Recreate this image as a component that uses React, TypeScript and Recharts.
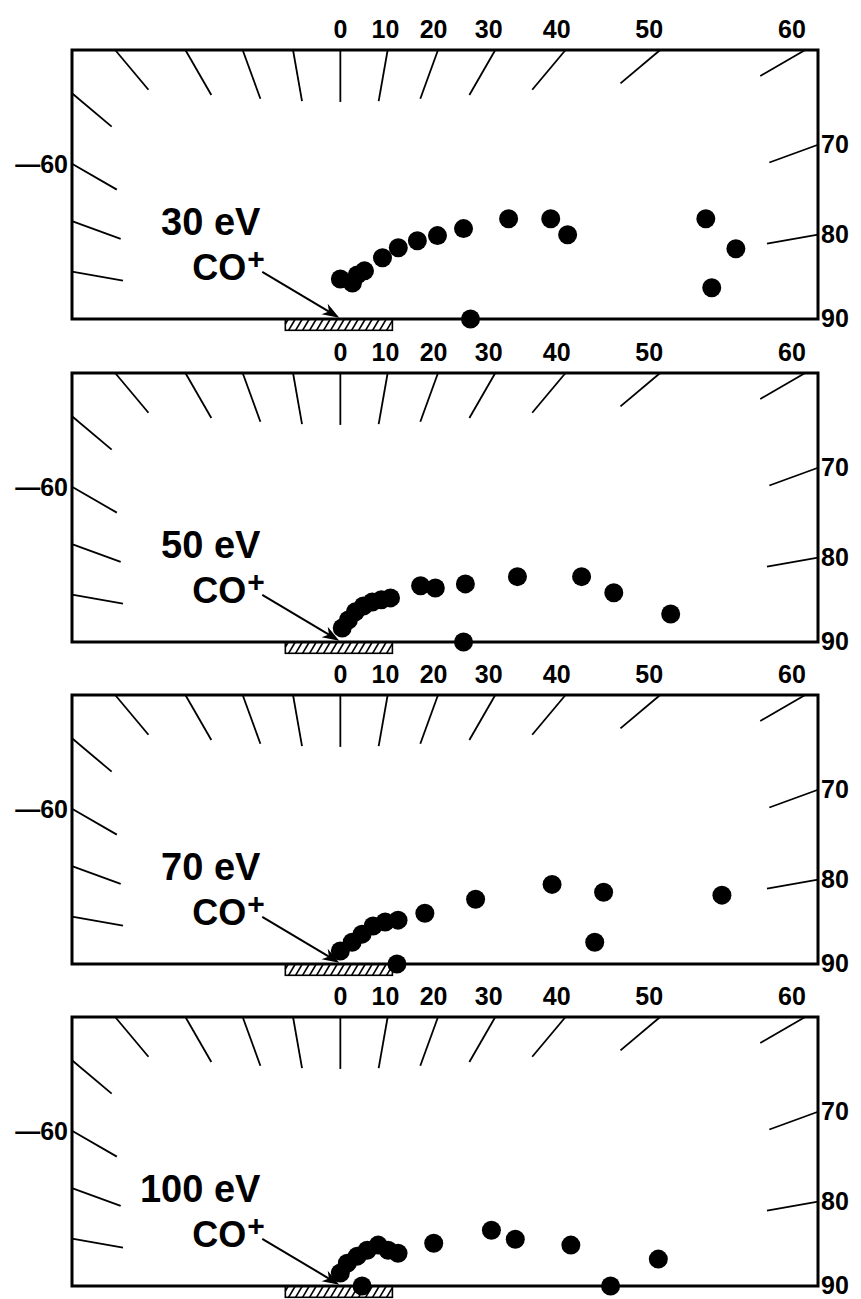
import React from "react";
import {
  ScatterChart,
  Scatter,
  XAxis,
  YAxis,
  ReferenceLine,
  ReferenceArea,
} from "recharts";

// frame in units of 1/100 panel height, origin = target spot on the baseline
const X_MIN = -100;
const X_MAX = 178;
const Y_MAX = 100;
const TICK_LEN = 19.3;

const TICK_ANGLES = [-80, -70, -60, -50, -40, -30, -20, -10, 0, 10, 20, 30, 40, 50, 60, 70, 80];
const TOP_LABELS = [0, 10, 20, 30, 40, 50, 60];
const RIGHT_LABELS = [70, 80, 90];
const LEFT_LABELS = [-60];

const ENERGY_LABELS = ["30 eV", "50 eV", "70 eV", "100 eV"];
const ION_LABEL = "CO";

// ─── measured points (horizontal, vertical) ────────────────────────────────
const X_30 = [0, 4.5, 6.3, 9.0, 15.7, 21.6, 28.7, 36.2, 45.9, 62.7, 78.4, 84.7, 136.2, 147.4, 138.4, 48.5];
const Y_30 = [14.9, 13.4, 16.4, 17.9, 22.8, 26.5, 29.1, 31.0, 33.6, 37.3, 37.3, 31.3, 37.3, 26.1, 11.6, 0];

const X_50 = [0.7, 3.0, 5.6, 8.6, 11.9, 15.3, 18.7, 29.9, 35.4, 46.6, 66.0, 89.9, 101.9, 123.1, 45.9];
const Y_50 = [5.2, 8.2, 11.2, 13.4, 14.9, 15.7, 16.4, 20.9, 20.1, 21.6, 24.3, 24.3, 18.3, 10.4, 0];

const X_70 = [0, 4.4, 8.1, 12.2, 16.7, 21.5, 31.5, 50.4, 78.9, 98.1, 142.2, 94.8, 21.1];
const Y_70 = [4.8, 8.1, 11.1, 14.1, 15.6, 16.3, 18.9, 24.1, 29.6, 26.7, 25.6, 8.1, 0];

const X_100 = [0, 2.6, 6.3, 10.0, 14.1, 17.8, 21.5, 34.8, 56.3, 65.2, 85.9, 118.5, 8.1, 100.7];
const Y_100 = [4.8, 8.5, 11.1, 13.3, 15.2, 13.3, 12.2, 15.9, 20.7, 17.4, 15.2, 10.0, 0, 0];

const SERIES = [
  { xs: X_30, ys: Y_30 },
  { xs: X_50, ys: Y_50 },
  { xs: X_70, ys: Y_70 },
  { xs: X_100, ys: Y_100 },
];

// annotation anchors
const ENERGY_POS = { x: -29.8, y: 31.2 };
const ION_POS = { x: -55.2, y: 14.5 };
const ARROW_FROM = { x: -29.1, y: 17.5 };
const ARROW_TO = { x: -0.4, y: 0.5 };
const SAMPLE = { x1: -20.5, x2: 19.4, depth: -4.2 };

const FONT = "'Liberation Sans', Arial, sans-serif";
const rad = (d: number) => (d * Math.PI) / 180;

// distance from origin to the frame along a ray (0° = straight up)
function edgeDist(deg: number) {
  const s = Math.sin(rad(deg));
  const c = Math.cos(rad(deg));
  let t = Infinity;
  if (c > 1e-6) t = Math.min(t, Y_MAX / c);
  if (s > 1e-6) t = Math.min(t, X_MAX / s);
  if (s < -1e-6) t = Math.min(t, -X_MIN / -s);
  return { s, c, t };
}

const labelText = {
  fontFamily: FONT,
  fontWeight: 700,
  fontSize: 25,
  fill: "#000",
};

function arrowShape(p: any) {
  const { x1, y1, x2, y2 } = p;
  const a = Math.atan2(y2 - y1, x2 - x1);
  const hl = 17;
  const hw = 6;
  const bx = x2 - hl * Math.cos(a);
  const by = y2 - hl * Math.sin(a);
  const nx = x2 - (hl - 5) * Math.cos(a);
  const ny = y2 - (hl - 5) * Math.sin(a);
  const px = -Math.sin(a) * hw;
  const py = Math.cos(a) * hw;
  return (
    <g>
      <line x1={x1} y1={y1} x2={nx} y2={ny} stroke="#000" strokeWidth={2} />
      <polygon
        points={`${x2},${y2} ${bx + px},${by + py} ${nx},${ny} ${bx - px},${by - py}`}
        fill="#000"
      />
    </g>
  );
}

// sample holder: outlined strip with "/" hatching
function hatchShape(p: any) {
  const { x, y, width, height } = p;
  const k = 0.6; // horizontal run per unit of height
  const lines = [];
  for (let hx = x - height * k + 3; hx < x + width; hx += 7) {
    const xa = Math.max(hx, x);
    const xb = Math.min(hx + height * k, x + width);
    lines.push(
      <line
        key={hx}
        x1={xa}
        y1={y + height - (xa - hx) / k}
        x2={xb}
        y2={y + height - (xb - hx) / k}
        stroke="#000"
        strokeWidth={1.6}
      />,
    );
  }
  return (
    <g>
      <rect x={x} y={y} width={width} height={height} fill="#fff" stroke="#000" strokeWidth={1.6} />
      {lines}
    </g>
  );
}

function Panel({ idx }: { idx: number }) {
  const { xs, ys } = SERIES[idx];
  const points = xs.map((x, i) => ({ x, y: ys[i] }));

  const topLabels = TOP_LABELS.map((deg) => ({
    x: Y_MAX * Math.tan(rad(deg)),
    y: Y_MAX,
    deg,
  }));
  const rightLabels = RIGHT_LABELS.map((deg) => ({
    x: X_MAX,
    y: deg === 90 ? 0 : X_MAX / Math.tan(rad(deg)),
    deg,
  }));
  const leftLabels = LEFT_LABELS.map((deg) => ({
    x: X_MIN,
    y: -X_MIN / Math.tan(rad(-deg)),
    deg,
  }));

  return (
    <ScatterChart
      width={861}
      height={345}
      margin={{ top: 50, right: 43, bottom: 26, left: 72 }}
    >
      <XAxis type="number" dataKey="x" domain={[X_MIN, X_MAX]} hide />
      <YAxis type="number" dataKey="y" domain={[0, Y_MAX]} hide />

      <ReferenceArea
        x1={SAMPLE.x1}
        x2={SAMPLE.x2}
        y1={SAMPLE.depth}
        y2={0}
        ifOverflow="visible"
        shape={hatchShape}
      />
      <ReferenceArea
        x1={X_MIN}
        x2={X_MAX}
        y1={0}
        y2={Y_MAX}
        ifOverflow="visible"
        fill="none"
        fillOpacity={0}
        stroke="#000"
        strokeWidth={3}
      />

      {TICK_ANGLES.map((deg) => {
        const { s, c, t } = edgeDist(deg);
        return (
          <ReferenceLine
            key={deg}
            ifOverflow="visible"
            stroke="#000"
            strokeWidth={1.8}
            segment={[
              { x: s * t, y: c * t },
              { x: s * (t - TICK_LEN), y: c * (t - TICK_LEN) },
            ]}
          />
        );
      })}

      <ReferenceLine
        ifOverflow="visible"
        segment={[ARROW_FROM, ARROW_TO]}
        shape={arrowShape}
      />

      <Scatter
        data={topLabels}
        isAnimationActive={false}
        shape={(p: any) => (
          <text
            x={p.cx - p.payload.deg * 0.22}
            y={p.cy - 12}
            textAnchor="middle"
            style={labelText}
          >
            {p.payload.deg}
          </text>
        )}
      />
      <Scatter
        data={rightLabels}
        isAnimationActive={false}
        shape={(p: any) => (
          <text x={p.cx + 3} y={p.cy + 8} textAnchor="start" style={labelText}>
            {p.payload.deg}
          </text>
        )}
      />
      <Scatter
        data={leftLabels}
        isAnimationActive={false}
        shape={(p: any) => (
          <text x={p.cx - 4} y={p.cy + 9} textAnchor="end" style={labelText}>
            {"\u2014" + Math.abs(p.payload.deg)}
          </text>
        )}
      />
      <Scatter
        data={[ENERGY_POS]}
        isAnimationActive={false}
        shape={(p: any) => (
          <text
            x={p.cx}
            y={p.cy}
            textAnchor="end"
            style={{ ...labelText, fontSize: 38 }}
          >
            {ENERGY_LABELS[idx]}
          </text>
        )}
      />
      <Scatter
        data={[ION_POS]}
        isAnimationActive={false}
        shape={(p: any) => (
          <text x={p.cx} y={p.cy} style={{ ...labelText, fontSize: 36 }}>
            {ION_LABEL}
            <tspan dx={1} dy={-11} fontSize={30}>
              +
            </tspan>
          </text>
        )}
      />

      <Scatter
        data={points}
        isAnimationActive={false}
        shape={(p: any) => <circle cx={p.cx} cy={p.cy} r={9.5} fill="#000" />}
      />
    </ScatterChart>
  );
}

const PANEL_TOPS = [0, 323, 645, 967];

export default function App() {
  return (
    <div
      style={{
        position: "absolute",
        left: 0,
        top: 0,
        width: 861,
        height: 1299,
        background: "#fff",
        overflow: "hidden",
      }}
    >
      {PANEL_TOPS.map((top, i) => (
        <div key={i} style={{ position: "absolute", left: 0, top }}>
          <Panel idx={i} />
        </div>
      ))}
    </div>
  );
}
